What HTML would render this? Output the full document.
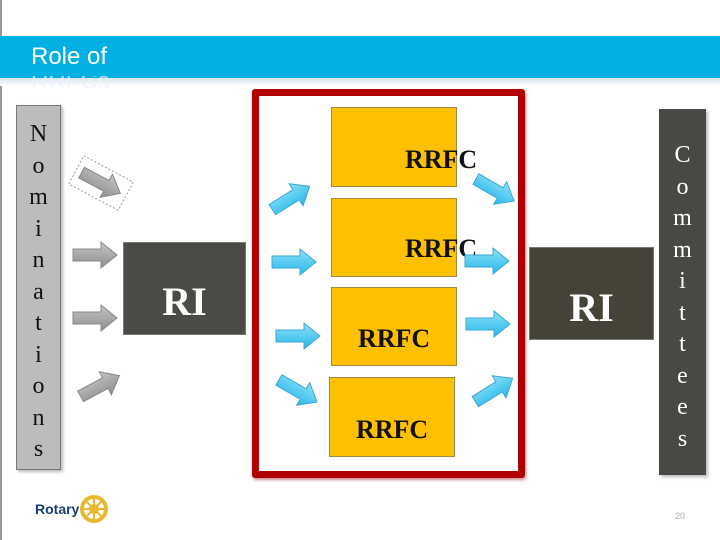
<!DOCTYPE html>
<html><head><meta charset="utf-8"><style>
body{margin:0;width:720px;height:540px;background:#fff;position:relative;overflow:hidden;font-family:"Liberation Serif",serif}
.a{position:absolute}
.col{position:absolute;text-align:center;font-size:24px;line-height:31.5px;box-sizing:border-box}
.box{position:absolute;background:#FFC000;border:1px solid #a08a40;box-sizing:border-box}
.lbl{position:absolute;font-weight:bold;font-size:26px;color:#111}
.ri{position:absolute;background:#4a4842;border:1px solid #777;box-sizing:border-box;color:#fff;font-weight:bold;font-size:40px;text-align:center}
</style></head><body>
<div class="a" style="left:0;top:0;width:2px;height:540px;background:#999"></div>
<div class="a" style="left:0;top:36px;width:720px;height:42px;background:#00b0e2"></div>
<div class="a" style="left:0;top:78px;width:720px;height:8px;background:linear-gradient(#d8e4ea,#fff)"></div>
<div class="a" style="left:31px;top:43px;color:#fff;font-family:'Liberation Sans',sans-serif;font-size:24px">Role of</div>
<div class="a" style="left:31px;top:76px;height:12px;overflow:hidden;color:#eef;font-family:'Liberation Sans',sans-serif;font-size:24px;line-height:24px;opacity:.7"><div style="margin-top:-6px">RRFCs</div></div>

<div class="col" style="left:16px;top:105px;width:45px;height:365px;background:#bcbcbc;border:1px solid #777;padding-top:13px;color:#111;box-shadow:2px 2px 3px #bbb">N<br>o<br>m<br>i<br>n<br>a<br>t<br>i<br>o<br>n<br>s</div>
<div class="col" style="left:659px;top:109px;width:47px;height:366px;background:#4a4844;color:#fff;padding-top:31px;box-shadow:2px 2px 3px #bbb">C<br>o<br>m<br>m<br>i<br>t<br>t<br>e<br>e<br>s</div>

<div class="ri" style="left:123px;top:242px;width:123px;height:93px;line-height:118px;background:#4c4a46">RI</div>
<div class="ri" style="left:529px;top:247px;width:125px;height:93px;line-height:120px;background:#454238">RI</div>

<div class="a" style="left:252px;top:89px;width:273px;height:389px;border:7px solid #b00000;box-sizing:border-box;border-radius:3px;box-shadow:1px 2px 3px #c88"></div>

<div class="box" style="left:331px;top:107px;width:126px;height:80px"></div>
<div class="box" style="left:331px;top:198px;width:126px;height:79px"></div>
<div class="box" style="left:331px;top:287px;width:126px;height:79px"></div>
<div class="box" style="left:329px;top:377px;width:126px;height:80px"></div>
<div class="lbl" style="left:405px;top:145px">RRFC</div>
<div class="lbl" style="left:405px;top:234px">RRFC</div>
<div class="lbl" style="left:358px;top:324px">RRFC</div>
<div class="lbl" style="left:356px;top:415px">RRFC</div>

<svg class="a" style="left:0;top:0" width="720" height="540">
<defs>
<path id="ar" d="M-22,-6 L6,-6 L6,-13 L22,0 L6,13 L6,6 L-22,6 Z"/>
<linearGradient id="bg" x1="0" y1="0" x2="0" y2="1"><stop offset="0" stop-color="#8fe0fa"/><stop offset="1" stop-color="#25b8e8"/></linearGradient>
<linearGradient id="gg" x1="0" y1="0" x2="0" y2="1"><stop offset="0" stop-color="#c4c4c4"/><stop offset="1" stop-color="#8e8e8e"/></linearGradient>
</defs>
<g fill="url(#gg)" stroke="#888" stroke-width="1">
<rect x="-28" y="-16" width="56" height="32" fill="none" stroke="#999" stroke-dasharray="2,2" transform="translate(101,183) rotate(28)"/>
<use href="#ar" transform="translate(101,183) rotate(28)"/>
<use href="#ar" transform="translate(95,255)"/>
<use href="#ar" transform="translate(95,318)"/>
<use href="#ar" transform="translate(100,386) rotate(-28)"/>
</g>
<g fill="url(#bg)" stroke="#3aa8d0" stroke-width="1">
<use href="#ar" transform="translate(291,198) rotate(-32)"/>
<use href="#ar" transform="translate(294,262)"/>
<use href="#ar" transform="translate(298,336)"/>
<use href="#ar" transform="translate(298,391) rotate(30)"/>
<use href="#ar" transform="translate(495,190) rotate(30)"/>
<use href="#ar" transform="translate(487,261)"/>
<use href="#ar" transform="translate(488,324)"/>
<use href="#ar" transform="translate(494,390) rotate(-32)"/>
</g>
<g transform="translate(94,509)">
<circle r="12" fill="none" stroke="#e8b830" stroke-width="4"/>
<circle r="4" fill="none" stroke="#e8b830" stroke-width="2"/>
<g stroke="#e8b830" stroke-width="2"><line x1="-10" y1="0" x2="10" y2="0"/><line x1="0" y1="-10" x2="0" y2="10"/><line x1="-7" y1="-7" x2="7" y2="7"/><line x1="-7" y1="7" x2="7" y2="-7"/></g>
</g>
<text x="35" y="514" font-family="Liberation Sans" font-weight="bold" font-size="14" fill="#1a3c78">Rotary</text>
<text x="675" y="519" font-family="Liberation Sans" font-size="9" fill="#aaa">20</text>
</svg>
</body></html>
